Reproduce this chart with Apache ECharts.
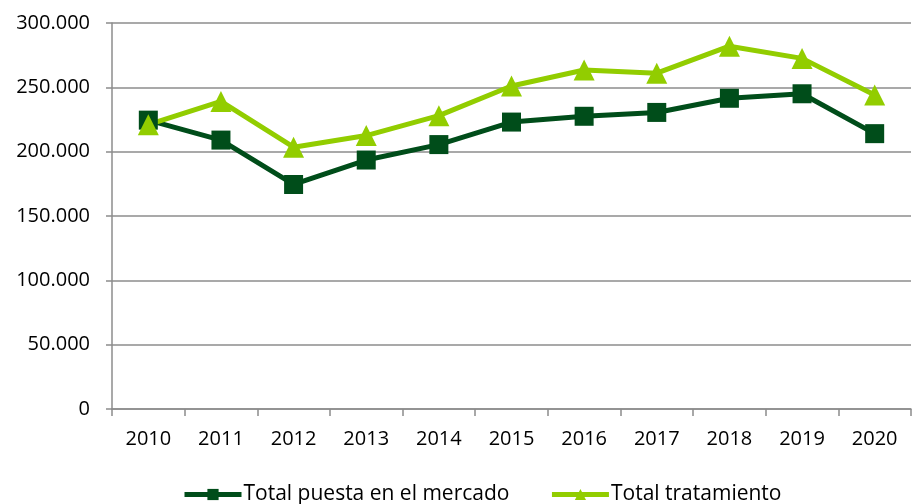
<!DOCTYPE html>
<html>
<head>
<meta charset="utf-8">
<script src="https://cdn.jsdelivr.net/npm/echarts@6/dist/echarts.min.js"></script>
<style>
html, body { margin: 0; padding: 0; background: #fff; }
#chart { width: 912px; height: 504px; }
</style>
</head>
<body>
<div id="chart"></div>
<script>
// años
var years = ["2010", "2011", "2012", "2013", "2014", "2015", "2016", "2017", "2018", "2019", "2020"];
// toneladas
var puestaMercado = [224500, 209000, 174500, 193500, 205500, 223000, 227500, 230500, 241500, 245000, 214000];
var tratamiento = [221000, 239000, 203500, 212500, 228000, 251000, 263500, 261000, 282000, 272500, 244000];
var seriesNames = ["Total puesta en el mercado", "Total tratamiento"];

var myChart = echarts.init(document.getElementById("chart"));

function miles (v) {
    // separador de miles con punto
    return String(v).replace(/\B(?=(\d{3})+(?!\d))/g, ".");
}

var option = {
    animation: false,
    textStyle: { fontFamily: "Open Sans" },
    grid: { left: 112, right: 1, top: 23, bottom: 95 },
    legend: {
        top: 479,
        left: 177,
        itemWidth: 57,
        itemHeight: 14,
        itemGap: 40,
        lineStyle: { width: 5 },
        textStyle: { fontSize: 21, color: "#000", fontFamily: "Open Sans", padding: [0, 0, 0, -3] },
        data: seriesNames
    },
    xAxis: {
        type: "category",
        data: years,
        boundaryGap: true,
        axisLine: { lineStyle: { color: "#8c8c8c", width: 1.5 } },
        axisTick: { show: true, length: 7, lineStyle: { color: "#8c8c8c", width: 1.5 } },
        axisLabel: { color: "#000", fontSize: 20, margin: 20 }
    },
    yAxis: {
        type: "value",
        min: 0,
        max: 300000,
        interval: 50000,
        axisLine: { show: true, lineStyle: { color: "#8c8c8c", width: 1.5 } },
        axisTick: { show: true, length: 6, lineStyle: { color: "#8c8c8c", width: 1.5 } },
        splitLine: { lineStyle: { color: "#8c8c8c", width: 1.5 } },
        axisLabel: { color: "#000", fontSize: 20, margin: 22, formatter: miles }
    },
    series: [
        {
            name: seriesNames[0],
            type: "line",
            data: puestaMercado,
            symbol: "rect",
            symbolSize: 19,
            lineStyle: { color: "#004d1a", width: 5 },
            itemStyle: { color: "#004d1a" }
        },
        {
            name: seriesNames[1],
            type: "line",
            data: tratamiento,
            symbol: "triangle",
            symbolSize: 21,
            lineStyle: { color: "#92cd00", width: 5 },
            itemStyle: { color: "#92cd00" }
        }
    ]
};
myChart.setOption(option);
</script>
</body>
</html>
